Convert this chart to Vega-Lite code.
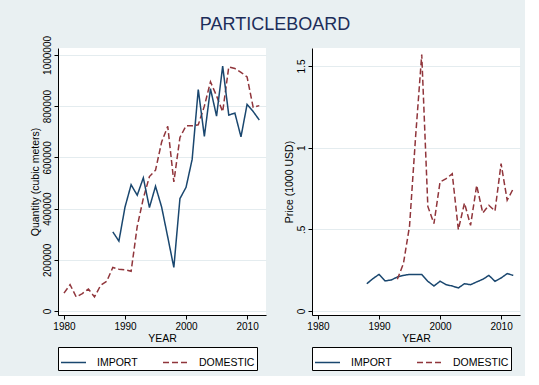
{
  "$schema": "https://vega.github.io/schema/vega-lite/v6.json",
  "background": "#e9f0f2",
  "padding": {"left": 29, "top": 16, "right": 5, "bottom": 5},
  "title": {"text": "PARTICLEBOARD", "fontSize": 18, "font": "Liberation Sans", "fontWeight": "normal", "color": "#1c2d5a", "anchor": "middle", "offset": 1},
  "datasets": {
    "quantity": [
      {"year": 1980, "series": "DOMESTIC", "value": 70000},
      {"year": 1981, "series": "DOMESTIC", "value": 103000},
      {"year": 1982, "series": "DOMESTIC", "value": 55000},
      {"year": 1983, "series": "DOMESTIC", "value": 68000},
      {"year": 1984, "series": "DOMESTIC", "value": 86000},
      {"year": 1985, "series": "DOMESTIC", "value": 55000},
      {"year": 1986, "series": "DOMESTIC", "value": 100000},
      {"year": 1987, "series": "DOMESTIC", "value": 116000},
      {"year": 1988, "series": "DOMESTIC", "value": 170000},
      {"year": 1989, "series": "DOMESTIC", "value": 163000},
      {"year": 1990, "series": "DOMESTIC", "value": 161000},
      {"year": 1991, "series": "DOMESTIC", "value": 155000},
      {"year": 1992, "series": "DOMESTIC", "value": 330000},
      {"year": 1993, "series": "DOMESTIC", "value": 440000},
      {"year": 1994, "series": "DOMESTIC", "value": 525000},
      {"year": 1995, "series": "DOMESTIC", "value": 550000},
      {"year": 1996, "series": "DOMESTIC", "value": 660000},
      {"year": 1997, "series": "DOMESTIC", "value": 721000},
      {"year": 1998, "series": "DOMESTIC", "value": 504000},
      {"year": 1999, "series": "DOMESTIC", "value": 678000},
      {"year": 2000, "series": "DOMESTIC", "value": 723000},
      {"year": 2001, "series": "DOMESTIC", "value": 723000},
      {"year": 2002, "series": "DOMESTIC", "value": 727000},
      {"year": 2003, "series": "DOMESTIC", "value": 800000},
      {"year": 2004, "series": "DOMESTIC", "value": 895000},
      {"year": 2005, "series": "DOMESTIC", "value": 840000},
      {"year": 2006, "series": "DOMESTIC", "value": 778000},
      {"year": 2007, "series": "DOMESTIC", "value": 953000},
      {"year": 2008, "series": "DOMESTIC", "value": 947000},
      {"year": 2009, "series": "DOMESTIC", "value": 932000},
      {"year": 2010, "series": "DOMESTIC", "value": 914000},
      {"year": 2011, "series": "DOMESTIC", "value": 795000},
      {"year": 2012, "series": "DOMESTIC", "value": 802000},
      {"year": 1988, "series": "IMPORT", "value": 309000},
      {"year": 1989, "series": "IMPORT", "value": 273000},
      {"year": 1990, "series": "IMPORT", "value": 406000},
      {"year": 1991, "series": "IMPORT", "value": 493000},
      {"year": 1992, "series": "IMPORT", "value": 452000},
      {"year": 1993, "series": "IMPORT", "value": 520000},
      {"year": 1994, "series": "IMPORT", "value": 404000},
      {"year": 1995, "series": "IMPORT", "value": 487000},
      {"year": 1996, "series": "IMPORT", "value": 406000},
      {"year": 1997, "series": "IMPORT", "value": 289000},
      {"year": 1998, "series": "IMPORT", "value": 170000},
      {"year": 1999, "series": "IMPORT", "value": 439000},
      {"year": 2000, "series": "IMPORT", "value": 483000},
      {"year": 2001, "series": "IMPORT", "value": 592000},
      {"year": 2002, "series": "IMPORT", "value": 865000},
      {"year": 2003, "series": "IMPORT", "value": 682000},
      {"year": 2004, "series": "IMPORT", "value": 868000},
      {"year": 2005, "series": "IMPORT", "value": 761000},
      {"year": 2006, "series": "IMPORT", "value": 956000},
      {"year": 2007, "series": "IMPORT", "value": 765000},
      {"year": 2008, "series": "IMPORT", "value": 773000},
      {"year": 2009, "series": "IMPORT", "value": 680000},
      {"year": 2010, "series": "IMPORT", "value": 807000},
      {"year": 2011, "series": "IMPORT", "value": 779000},
      {"year": 2012, "series": "IMPORT", "value": 746000}
    ],
    "price": [
      {"year": 1988, "series": "IMPORT", "value": 0.167},
      {"year": 1989, "series": "IMPORT", "value": 0.198},
      {"year": 1990, "series": "IMPORT", "value": 0.224},
      {"year": 1991, "series": "IMPORT", "value": 0.184},
      {"year": 1992, "series": "IMPORT", "value": 0.19},
      {"year": 1993, "series": "IMPORT", "value": 0.208},
      {"year": 1994, "series": "IMPORT", "value": 0.218},
      {"year": 1995, "series": "IMPORT", "value": 0.224},
      {"year": 1996, "series": "IMPORT", "value": 0.224},
      {"year": 1997, "series": "IMPORT", "value": 0.224},
      {"year": 1998, "series": "IMPORT", "value": 0.182},
      {"year": 1999, "series": "IMPORT", "value": 0.153},
      {"year": 2000, "series": "IMPORT", "value": 0.182},
      {"year": 2001, "series": "IMPORT", "value": 0.161},
      {"year": 2002, "series": "IMPORT", "value": 0.153},
      {"year": 2003, "series": "IMPORT", "value": 0.141},
      {"year": 2004, "series": "IMPORT", "value": 0.167},
      {"year": 2005, "series": "IMPORT", "value": 0.161},
      {"year": 2006, "series": "IMPORT", "value": 0.178},
      {"year": 2007, "series": "IMPORT", "value": 0.194},
      {"year": 2008, "series": "IMPORT", "value": 0.218},
      {"year": 2009, "series": "IMPORT", "value": 0.182},
      {"year": 2010, "series": "IMPORT", "value": 0.202},
      {"year": 2011, "series": "IMPORT", "value": 0.229},
      {"year": 2012, "series": "IMPORT", "value": 0.218},
      {"year": 1993, "series": "DOMESTIC", "value": 0.194},
      {"year": 1994, "series": "DOMESTIC", "value": 0.29},
      {"year": 1995, "series": "DOMESTIC", "value": 0.52},
      {"year": 1996, "series": "DOMESTIC", "value": 1.07},
      {"year": 1997, "series": "DOMESTIC", "value": 1.57},
      {"year": 1998, "series": "DOMESTIC", "value": 0.64},
      {"year": 1999, "series": "DOMESTIC", "value": 0.535},
      {"year": 2000, "series": "DOMESTIC", "value": 0.79},
      {"year": 2001, "series": "DOMESTIC", "value": 0.81},
      {"year": 2002, "series": "DOMESTIC", "value": 0.84},
      {"year": 2003, "series": "DOMESTIC", "value": 0.498},
      {"year": 2004, "series": "DOMESTIC", "value": 0.661},
      {"year": 2005, "series": "DOMESTIC", "value": 0.524},
      {"year": 2006, "series": "DOMESTIC", "value": 0.769},
      {"year": 2007, "series": "DOMESTIC", "value": 0.6},
      {"year": 2008, "series": "DOMESTIC", "value": 0.647},
      {"year": 2009, "series": "DOMESTIC", "value": 0.612},
      {"year": 2010, "series": "DOMESTIC", "value": 0.902},
      {"year": 2011, "series": "DOMESTIC", "value": 0.678},
      {"year": 2012, "series": "DOMESTIC", "value": 0.749}
    ]
  },
  "hconcat": [
    {
      "width": 208,
      "height": 267,
      "data": {"name": "quantity"},
      "mark": {"type": "line", "strokeWidth": 1.5},
      "encoding": {
        "x": {"field": "year", "type": "quantitative", "title": "YEAR",
              "scale": {"domain": [1979.02, 2013.1], "nice": false, "zero": false},
              "axis": {"values": [1980, 1990, 2000, 2010], "format": "d", "grid": false}},
        "y": {"field": "value", "type": "quantitative", "title": "Quantity (cubic meters)",
              "scale": {"domain": [-15600, 1027000], "nice": false, "zero": false},
              "axis": {"values": [0, 200000, 400000, 600000, 800000, 1000000], "format": "d", "labelAngle": 270, "labelAlign": "center", "labelBaseline": "bottom"}},
        "color": {"field": "series", "type": "nominal", "title": null,
                  "scale": {"domain": ["IMPORT", "DOMESTIC"], "range": ["#1a476f", "#90353b"]}},
        "strokeDash": {"field": "series", "type": "nominal", "title": null,
                  "scale": {"domain": ["IMPORT", "DOMESTIC"], "range": [[1, 0], [6, 3]]}}
      }
    },
    {
      "width": 208,
      "height": 267,
      "data": {"name": "price"},
      "mark": {"type": "line", "strokeWidth": 1.5},
      "encoding": {
        "x": {"field": "year", "type": "quantitative", "title": "YEAR",
              "scale": {"domain": [1979.02, 2013.1], "nice": false, "zero": false},
              "axis": {"values": [1980, 1990, 2000, 2010], "format": "d", "grid": false}},
        "y": {"field": "value", "type": "quantitative", "title": "Price (1000 USD)",
              "scale": {"domain": [-0.0245, 1.61], "nice": false, "zero": false},
              "axis": {"values": [0, 0.5, 1, 1.5], "labelExpr": "datum.value == 0 ? '0' : datum.value == 0.5 ? '.5' : datum.value == 1 ? '1' : '1.5'", "labelAngle": 270, "labelAlign": "center", "labelBaseline": "bottom"}},
        "color": {"field": "series", "type": "nominal", "title": null,
                  "scale": {"domain": ["IMPORT", "DOMESTIC"], "range": ["#1a476f", "#90353b"]}},
        "strokeDash": {"field": "series", "type": "nominal", "title": null,
                  "scale": {"domain": ["IMPORT", "DOMESTIC"], "range": [[1, 0], [6, 3]]}}
      }
    }
  ],
  "spacing": 18,
  "resolve": {
    "scale": {"color": "independent", "strokeDash": "independent"},
    "legend": {"color": "independent", "strokeDash": "independent"}
  },
  "config": {
    "font": "Liberation Sans",
    "view": {"fill": "white", "stroke": null},
    "axis": {
      "domainColor": "#000000",
      "domainWidth": 1,
      "tickColor": "#000000",
      "tickSize": 4,
      "labelColor": "#000000",
      "labelFontSize": 10,
      "labelFont": "Liberation Sans",
      "labelPadding": 2,
      "titleFont": "Liberation Sans",
      "titleFontSize": 10.5,
      "titleFontWeight": "normal",
      "titleColor": "#000000",
      "titlePadding": 2,
      "gridColor": "#e4ecef",
      "gridWidth": 1,
      "labelFlush": false
    },
    "legend": {
      "orient": "bottom",
      "direction": "horizontal",
      "strokeColor": "#000000",
      "fillColor": "white",
      "padding": 2,
      "offset": 3,
      "symbolType": "stroke",
      "symbolSize": 625,
      "symbolStrokeWidth": 1.5,
      "labelFontSize": 10.5,
      "labelFont": "Liberation Sans",
      "labelColor": "#000000",
      "labelOffset": 10,
      "columnPadding": 22
    }
  }
}
